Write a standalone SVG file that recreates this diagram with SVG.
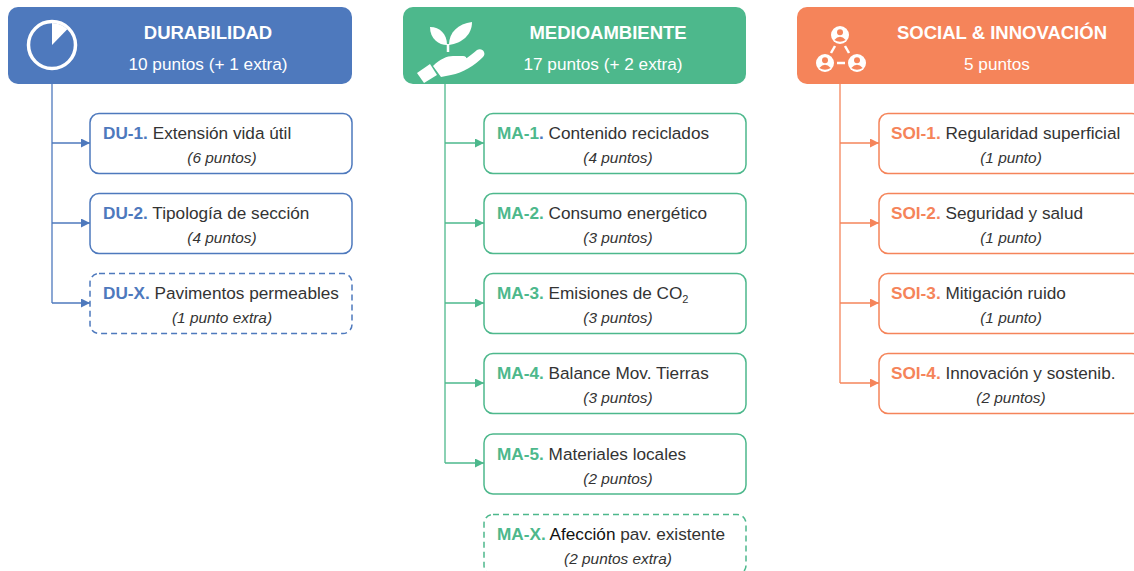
<svg xmlns="http://www.w3.org/2000/svg" width="1134" height="571" viewBox="0 0 1134 571">
<defs>
<style>
.hdr-t{font-family:"Liberation Sans",Arial,sans-serif;font-weight:bold;font-size:18.5px;fill:#fff;text-anchor:middle}
.hdr-s{font-family:"Liberation Sans",Arial,sans-serif;font-size:17.2px;fill:#fff;text-anchor:middle}
.t1{font-family:"Liberation Sans",Arial,sans-serif;font-size:17.2px;fill:#333}
.t2{font-family:"Liberation Sans",Arial,sans-serif;font-size:15.4px;font-style:italic;fill:#333;text-anchor:middle}
.b{font-weight:bold}
.box{fill:#fff;stroke-width:1.5}
.dash{stroke-dasharray:6 4}
.du{stroke:#4E79BD}
.ma{stroke:#4DB88C}
.so{stroke:#F5845A}
.cdu{fill:#4E79BD}
.cma{fill:#4DB88C}
.cso{fill:#F5845A}
.con{fill:none;stroke-width:1.3}
</style>
<marker id="aDU" viewBox="0 0 10 10" refX="10" refY="5" markerUnits="userSpaceOnUse" markerWidth="9" markerHeight="9" orient="auto"><path d="M0,0 L10,5 L0,10 z" fill="#4E79BD"/></marker>
<marker id="aMA" viewBox="0 0 10 10" refX="10" refY="5" markerUnits="userSpaceOnUse" markerWidth="9" markerHeight="9" orient="auto"><path d="M0,0 L10,5 L0,10 z" fill="#4DB88C"/></marker>
<marker id="aSO" viewBox="0 0 10 10" refX="10" refY="5" markerUnits="userSpaceOnUse" markerWidth="9" markerHeight="9" orient="auto"><path d="M0,0 L10,5 L0,10 z" fill="#F5845A"/></marker>
</defs>
<rect width="1134" height="571" fill="#fff"/>

<g id="connectors">
<path class="con du" d="M52,84 V303"/>
<path class="con du" d="M52,143 H90" marker-end="url(#aDU)"/>
<path class="con du" d="M52,223 H90" marker-end="url(#aDU)"/>
<path class="con du" d="M52,303 H90" marker-end="url(#aDU)"/>
<path class="con ma" d="M445,84 V463"/>
<path class="con ma" d="M445,143 H484" marker-end="url(#aMA)"/>
<path class="con ma" d="M445,223 H484" marker-end="url(#aMA)"/>
<path class="con ma" d="M445,303 H484" marker-end="url(#aMA)"/>
<path class="con ma" d="M445,383 H484" marker-end="url(#aMA)"/>
<path class="con ma" d="M445,463 H484" marker-end="url(#aMA)"/>
<path class="con so" d="M840,84 V383"/>
<path class="con so" d="M840,143 H879" marker-end="url(#aSO)"/>
<path class="con so" d="M840,223 H879" marker-end="url(#aSO)"/>
<path class="con so" d="M840,303 H879" marker-end="url(#aSO)"/>
<path class="con so" d="M840,383 H879" marker-end="url(#aSO)"/>
</g>

<g id="hdr-durabilidad">
<rect x="8" y="7" width="344" height="77" rx="10" class="cdu"/>
<circle cx="52" cy="45" r="23.5" fill="none" stroke="#fff" stroke-width="3.5"/>
<path d="M52,45 L52,23 A22,22 0 0,1 67.3,29.2 Z" fill="#fff"/>
<text x="208" y="39" class="hdr-t">DURABILIDAD</text>
<text x="208" y="70" class="hdr-s">10 puntos (+ 1 extra)</text>
</g>

<g id="hdr-medioambiente">
<rect x="403" y="7" width="343" height="77" rx="10" class="cma"/>
<path d="M447,45 C439,45 430,39 430,27 C440,27 447,34 447,45 Z" fill="#fff"/>
<path d="M449,45 C449,32 458,24 472,22 C472,35 462,43 449,45 Z" fill="#fff"/>
<path d="M448,44 V52" stroke="#fff" stroke-width="2.5"/>
<path d="M433,66 C440,59 447,56 453,56 L463,56 C468,56 468,63 463,63 L456,63 C463,62 471,55 477,50 C482,47 487,53 483,57 C475,65 463,73 451,75 L441,77 Z" fill="#fff"/>
<path d="M417,73 L430,64 L437,75 L424,83 Z" fill="#fff"/>
<text x="608" y="39" class="hdr-t">MEDIOAMBIENTE</text>
<text x="603" y="70" class="hdr-s">17 puntos (+ 2 extra)</text>
</g>

<g id="hdr-social">
<rect x="797" y="7" width="345" height="77" rx="10" class="cso"/>
<g fill="#fff">
<circle cx="840" cy="35" r="9"/>
<circle cx="825" cy="63" r="9"/>
<circle cx="857" cy="63" r="9"/>
</g>
<g stroke="#fff" stroke-width="2.5" stroke-linecap="butt">
<path d="M835,46 L831,53"/>
<path d="M845,46 L849,53"/>
<path d="M837,63 H845"/>
</g>
<g fill="#F5845A">
<circle cx="840" cy="32.3" r="3"/>
<path d="M834.3,40 Q840,33.5 845.7,40 Q840,43.5 834.3,40 Z"/>
<circle cx="825" cy="60.3" r="3"/>
<path d="M819.3,68 Q825,61.5 830.7,68 Q825,71.5 819.3,68 Z"/>
<circle cx="857" cy="60.3" r="3"/>
<path d="M851.3,68 Q857,61.5 862.7,68 Q857,71.5 851.3,68 Z"/>
</g>
<text x="1002" y="39" class="hdr-t">SOCIAL &amp; INNOVACIÓN</text>
<text x="997" y="70" class="hdr-s">5 puntos</text>
</g>

<g id="du-1">
<rect x="90" y="113.5" width="262" height="60" rx="9" class="box du"/>
<text x="103" y="139" class="t1"><tspan class="b" fill="#4E79BD">DU-1.</tspan> Extensión vida útil</text>
<text x="222" y="163" class="t2">(6 puntos)</text>
</g>
<g id="du-2">
<rect x="90" y="193.5" width="262" height="60" rx="9" class="box du"/>
<text x="103" y="219" class="t1"><tspan class="b" fill="#4E79BD">DU-2.</tspan> Tipología de sección</text>
<text x="222" y="243" class="t2">(4 puntos)</text>
</g>
<g id="du-x">
<rect x="90" y="273.5" width="262" height="60" rx="9" class="box du dash"/>
<text x="103" y="299" class="t1"><tspan class="b" fill="#4E79BD">DU-X.</tspan> Pavimentos permeables</text>
<text x="222" y="323" class="t2">(1 punto extra)</text>
</g>

<g id="ma-1">
<rect x="484" y="113.5" width="262" height="60" rx="9" class="box ma"/>
<text x="497" y="139" class="t1"><tspan class="b" fill="#4DB88C">MA-1</tspan><tspan class="b" fill="#4E79BD">.</tspan> Contenido reciclados</text>
<text x="618" y="163" class="t2">(4 puntos)</text>
</g>
<g id="ma-2">
<rect x="484" y="193.5" width="262" height="60" rx="9" class="box ma"/>
<text x="497" y="219" class="t1"><tspan class="b" fill="#4DB88C">MA-2.</tspan> Consumo energético</text>
<text x="618" y="243" class="t2">(3 puntos)</text>
</g>
<g id="ma-3">
<rect x="484" y="273.5" width="262" height="60" rx="9" class="box ma"/>
<text x="497" y="299" class="t1"><tspan class="b" fill="#4DB88C">MA-3.</tspan> Emisiones de CO<tspan font-size="11px" dy="4">2</tspan></text>
<text x="618" y="323" class="t2">(3 puntos)</text>
</g>
<g id="ma-4">
<rect x="484" y="353.5" width="262" height="60" rx="9" class="box ma"/>
<text x="497" y="379" class="t1"><tspan class="b" fill="#4DB88C">MA-4.</tspan> Balance Mov. Tierras</text>
<text x="618" y="403" class="t2">(3 puntos)</text>
</g>
<g id="ma-5">
<rect x="484" y="434" width="262" height="60" rx="9" class="box ma"/>
<text x="497" y="459.5" class="t1"><tspan class="b" fill="#4DB88C">MA-5.</tspan> Materiales locales</text>
<text x="618" y="483.5" class="t2">(2 puntos)</text>
</g>
<g id="ma-x">
<rect x="484" y="514.5" width="262" height="60" rx="9" class="box ma dash"/>
<text x="497" y="540" class="t1"><tspan class="b" fill="#4DB88C">MA-X.</tspan> <tspan fill="#111">Afección</tspan> pav. existente</text>
<text x="618" y="564" class="t2">(2 puntos extra)</text>
</g>

<g id="soi-1">
<rect x="879" y="113.5" width="262" height="60" rx="9" class="box so"/>
<text x="891" y="139" class="t1"><tspan class="b" fill="#F5845A">SOI-1.</tspan> Regularidad superficial</text>
<text x="1011" y="163" class="t2">(1 punto)</text>
</g>
<g id="soi-2">
<rect x="879" y="193.5" width="262" height="60" rx="9" class="box so"/>
<text x="891" y="219" class="t1"><tspan class="b" fill="#F5845A">SOI-2.</tspan> Seguridad y salud</text>
<text x="1011" y="243" class="t2">(1 punto)</text>
</g>
<g id="soi-3">
<rect x="879" y="273.5" width="262" height="60" rx="9" class="box so"/>
<text x="891" y="299" class="t1"><tspan class="b" fill="#F5845A">SOI-3.</tspan> Mitigación ruido</text>
<text x="1011" y="323" class="t2">(1 punto)</text>
</g>
<g id="soi-4">
<rect x="879" y="353.5" width="262" height="60" rx="9" class="box so"/>
<text x="891" y="379" class="t1"><tspan class="b" fill="#F5845A">SOI-4.</tspan> Innovación y sostenib.</text>
<text x="1011" y="403" class="t2">(2 puntos)</text>
</g>
</svg>
